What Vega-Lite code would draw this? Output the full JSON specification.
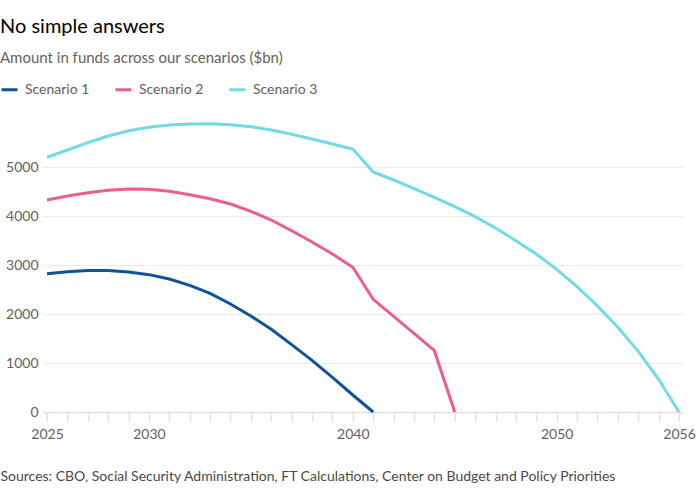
{
  "$schema": "https://vega.github.io/schema/vega-lite/v6.json",
  "width": 640,
  "height": 294,
  "autosize": {"type": "none"},
  "padding": {"left": 43, "top": 118, "right": 17, "bottom": 88},
  "background": "white",
  "config": {"font": "Lato", "view": {"stroke": null}},
  "title": {
    "text": "No simple answers",
    "subtitle": "Amount in funds across our scenarios ($bn)",
    "anchor": "start",
    "frame": "group",
    "dx": -43,
    "offset": 14,
    "fontSize": 20,
    "fontWeight": "normal",
    "color": "#000000",
    "subtitleFontSize": 15,
    "subtitleColor": "#66605c",
    "subtitlePadding": 14
  },
  "data": {
    "values": [
      {"year": 2025, "scenario": "Scenario 1", "value": 2820},
      {"year": 2026, "scenario": "Scenario 1", "value": 2864},
      {"year": 2027, "scenario": "Scenario 1", "value": 2890},
      {"year": 2028, "scenario": "Scenario 1", "value": 2890},
      {"year": 2029, "scenario": "Scenario 1", "value": 2857},
      {"year": 2030, "scenario": "Scenario 1", "value": 2803},
      {"year": 2031, "scenario": "Scenario 1", "value": 2714},
      {"year": 2032, "scenario": "Scenario 1", "value": 2585},
      {"year": 2033, "scenario": "Scenario 1", "value": 2422},
      {"year": 2034, "scenario": "Scenario 1", "value": 2204},
      {"year": 2035, "scenario": "Scenario 1", "value": 1959},
      {"year": 2036, "scenario": "Scenario 1", "value": 1687},
      {"year": 2037, "scenario": "Scenario 1", "value": 1374},
      {"year": 2038, "scenario": "Scenario 1", "value": 1055},
      {"year": 2039, "scenario": "Scenario 1", "value": 708},
      {"year": 2040, "scenario": "Scenario 1", "value": 347},
      {"year": 2041, "scenario": "Scenario 1", "value": 0},
      {"year": 2025, "scenario": "Scenario 2", "value": 4327},
      {"year": 2026, "scenario": "Scenario 2", "value": 4408},
      {"year": 2027, "scenario": "Scenario 2", "value": 4476},
      {"year": 2028, "scenario": "Scenario 2", "value": 4524},
      {"year": 2029, "scenario": "Scenario 2", "value": 4551},
      {"year": 2030, "scenario": "Scenario 2", "value": 4544},
      {"year": 2031, "scenario": "Scenario 2", "value": 4503},
      {"year": 2032, "scenario": "Scenario 2", "value": 4435},
      {"year": 2033, "scenario": "Scenario 2", "value": 4353},
      {"year": 2034, "scenario": "Scenario 2", "value": 4245},
      {"year": 2035, "scenario": "Scenario 2", "value": 4095},
      {"year": 2036, "scenario": "Scenario 2", "value": 3918},
      {"year": 2037, "scenario": "Scenario 2", "value": 3700},
      {"year": 2038, "scenario": "Scenario 2", "value": 3469},
      {"year": 2039, "scenario": "Scenario 2", "value": 3224},
      {"year": 2040, "scenario": "Scenario 2", "value": 2953},
      {"year": 2041, "scenario": "Scenario 2", "value": 2300},
      {"year": 2042, "scenario": "Scenario 2", "value": 1953},
      {"year": 2043, "scenario": "Scenario 2", "value": 1606},
      {"year": 2044, "scenario": "Scenario 2", "value": 1251},
      {"year": 2045, "scenario": "Scenario 2", "value": 0},
      {"year": 2025, "scenario": "Scenario 3", "value": 5198},
      {"year": 2026, "scenario": "Scenario 3", "value": 5347},
      {"year": 2027, "scenario": "Scenario 3", "value": 5497},
      {"year": 2028, "scenario": "Scenario 3", "value": 5633},
      {"year": 2029, "scenario": "Scenario 3", "value": 5741},
      {"year": 2030, "scenario": "Scenario 3", "value": 5810},
      {"year": 2031, "scenario": "Scenario 3", "value": 5857},
      {"year": 2032, "scenario": "Scenario 3", "value": 5878},
      {"year": 2033, "scenario": "Scenario 3", "value": 5884},
      {"year": 2034, "scenario": "Scenario 3", "value": 5864},
      {"year": 2035, "scenario": "Scenario 3", "value": 5823},
      {"year": 2036, "scenario": "Scenario 3", "value": 5755},
      {"year": 2037, "scenario": "Scenario 3", "value": 5667},
      {"year": 2038, "scenario": "Scenario 3", "value": 5571},
      {"year": 2039, "scenario": "Scenario 3", "value": 5469},
      {"year": 2040, "scenario": "Scenario 3", "value": 5367},
      {"year": 2041, "scenario": "Scenario 3", "value": 4898},
      {"year": 2042, "scenario": "Scenario 3", "value": 4735},
      {"year": 2043, "scenario": "Scenario 3", "value": 4558},
      {"year": 2044, "scenario": "Scenario 3", "value": 4381},
      {"year": 2045, "scenario": "Scenario 3", "value": 4190},
      {"year": 2046, "scenario": "Scenario 3", "value": 3986},
      {"year": 2047, "scenario": "Scenario 3", "value": 3755},
      {"year": 2048, "scenario": "Scenario 3", "value": 3496},
      {"year": 2049, "scenario": "Scenario 3", "value": 3224},
      {"year": 2050, "scenario": "Scenario 3", "value": 2912},
      {"year": 2051, "scenario": "Scenario 3", "value": 2557},
      {"year": 2052, "scenario": "Scenario 3", "value": 2163},
      {"year": 2053, "scenario": "Scenario 3", "value": 1728},
      {"year": 2054, "scenario": "Scenario 3", "value": 1238},
      {"year": 2055, "scenario": "Scenario 3", "value": 667},
      {"year": 2056, "scenario": "Scenario 3", "value": 0}
    ]
  },
  "mark": {"type": "line", "strokeWidth": 3},
  "encoding": {
    "x": {
      "field": "year",
      "type": "quantitative",
      "scale": {"domain": [2025, 2056], "nice": false, "zero": false, "padding": 4},
      "axis": {
        "values": [2025, 2026, 2027, 2028, 2029, 2030, 2031, 2032, 2033, 2034, 2035, 2036, 2037, 2038, 2039, 2040, 2041, 2042, 2043, 2044, 2045, 2046, 2047, 2048, 2049, 2050, 2051, 2052, 2053, 2054, 2055, 2056],
        "format": "d",
        "labelExpr": "indexof([2025, 2030, 2040, 2050, 2056], datum.value) >= 0 ? datum.label : ''",
        "labelOverlap": false,
        "labelFlush": false,
        "labelFontSize": 14,
        "labelColor": "#66605c",
        "labelPadding": 6,
        "grid": false,
        "domainColor": "#e6ddd4",
        "domainWidth": 1.5,
        "tickColor": "#e6ddd4",
        "tickWidth": 1.5,
        "tickSize": 9,
        "title": "Sources: CBO, Social Security Administration, FT Calculations, Center on Budget and Policy Priorities",
        "titleX": -43,
        "titleY": 68,
        "titleAlign": "left",
        "titleBaseline": "alphabetic",
        "titleFontSize": 14,
        "titleFontWeight": "normal",
        "titleColor": "#4d4845"
      }
    },
    "y": {
      "field": "value",
      "type": "quantitative",
      "scale": {"domain": [0, 6000], "nice": false},
      "axis": {
        "values": [0, 1000, 2000, 3000, 4000, 5000],
        "format": "d",
        "domain": false,
        "ticks": false,
        "labelPadding": 5,
        "labelFontSize": 14,
        "labelColor": "#66605c",
        "gridColor": "#efe9e3",
        "gridWidth": 1,
        "title": null
      }
    },
    "color": {
      "field": "scenario",
      "type": "nominal",
      "scale": {
        "domain": ["Scenario 1", "Scenario 2", "Scenario 3"],
        "range": ["#0f5499", "#eb5e8d", "#70dbe3"]
      },
      "legend": {
        "orient": "none",
        "legendX": -43,
        "legendY": -38,
        "direction": "horizontal",
        "title": null,
        "symbolType": "stroke",
        "symbolSize": 256,
        "symbolStrokeWidth": 3,
        "labelFontSize": 14,
        "labelColor": "#66605c",
        "labelOffset": 6,
        "columnPadding": 19,
        "padding": 0
      }
    }
  }
}
